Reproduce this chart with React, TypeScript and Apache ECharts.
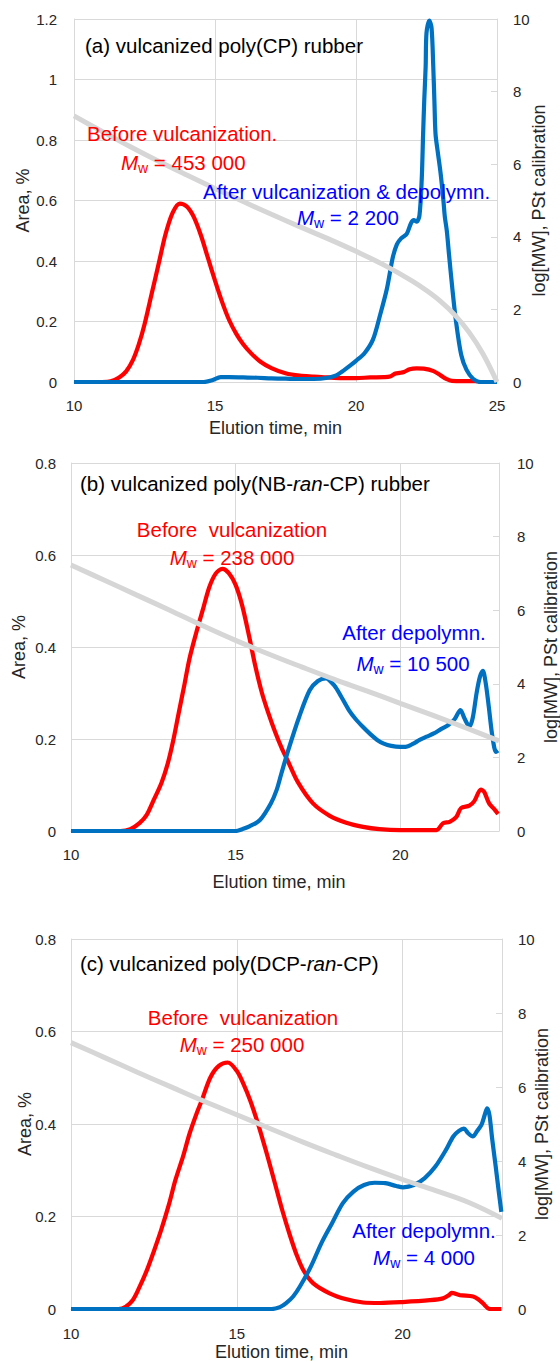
import { useEffect, useRef } from "react";
import * as echarts from "echarts";

const FONT = '"Liberation Sans", Arial, sans-serif';
const GRID_C = "#d9d9d9";
const TXT = "#262626";
const RED = "#ff0000";
const BLUE = "#0070c0";
const GRAY = "#d6d6d6";
const RED_T = "#ff0000";
const BLUE_T = "#0000ff";

// ---------- panel (a) ----------
const beforeA: number[][] = [
  [10, 0], [11, 0], [11.3, 0.002], [11.6, 0.015], [11.85, 0.035], [12.1, 0.075], [12.3, 0.125],
  [12.5, 0.19], [12.75, 0.29], [13.0, 0.39], [13.25, 0.49], [13.5, 0.56], [13.75, 0.59],
  [14.0, 0.58], [14.25, 0.545], [14.5, 0.485], [14.75, 0.41], [15.0, 0.335], [15.25, 0.265],
  [15.5, 0.205], [15.75, 0.16], [16.0, 0.125], [16.3, 0.093], [16.6, 0.068], [17.0, 0.046],
  [17.5, 0.029], [18.0, 0.021], [18.5, 0.018], [19.0, 0.015], [19.5, 0.013], [20.0, 0.013],
  [20.5, 0.015], [21.0, 0.016], [21.2, 0.018], [21.4, 0.028], [21.55, 0.03], [21.7, 0.033],
  [21.9, 0.042], [22.15, 0.045], [22.4, 0.044], [22.75, 0.036], [23.0, 0.022], [23.2, 0.01],
  [23.4, 0.004], [24.3, 0.003],
];
const afterA: number[][] = [
  [10, 0], [14.6, 0], [14.9, 0.006], [15.2, 0.016], [15.5, 0.016], [16, 0.015], [16.5, 0.014],
  [17, 0.012], [17.5, 0.011], [18, 0.01], [18.5, 0.01], [19, 0.014], [19.3, 0.022], [19.5, 0.034],
  [19.8, 0.055], [20.0, 0.07], [20.3, 0.095], [20.6, 0.14], [20.85, 0.22], [21.1, 0.31],
  [21.3, 0.41], [21.45, 0.455], [21.6, 0.475], [21.8, 0.49], [21.95, 0.525], [22.05, 0.535],
  [22.15, 0.53], [22.25, 0.55], [22.33, 0.668], [22.38, 0.82], [22.42, 0.93], [22.47, 1.043],
  [22.5, 1.154], [22.6, 1.195], [22.68, 1.17], [22.74, 1.043], [22.78, 0.93], [22.82, 0.82],
  [22.89, 0.767], [23.0, 0.69], [23.1, 0.6], [23.15, 0.546], [23.22, 0.5], [23.3, 0.42],
  [23.41, 0.315], [23.54, 0.205], [23.73, 0.09], [23.92, 0.04], [24.16, 0.01], [24.4, 0], [25, 0],
];
const calibA: number[][] = [
  [10, 7.33], [11, 6.9], [12, 6.48], [13, 6.08], [14, 5.7], [15, 5.33], [16, 4.97], [17, 4.62],
  [18, 4.28], [19, 3.95], [20, 3.6], [21, 3.22], [22, 2.78], [22.5, 2.52], [23, 2.22], [23.5, 1.85],
  [24, 1.38], [24.5, 0.78], [25, 0],
];

// ---------- panel (b) ----------
const beforeB: number[][] = [
  [10, 0], [11.5, 0], [11.8, 0.004], [12.08, 0.017], [12.3, 0.035], [12.51, 0.067], [12.75, 0.105],
  [12.94, 0.147], [13.1, 0.195], [13.27, 0.256], [13.45, 0.32], [13.6, 0.375], [13.8, 0.43],
  [14.0, 0.48], [14.2, 0.53], [14.4, 0.56], [14.6, 0.57], [14.8, 0.56], [15.0, 0.535], [15.2, 0.49],
  [15.42, 0.42], [15.6, 0.358], [15.8, 0.3], [16.0, 0.255], [16.2, 0.215], [16.4, 0.18],
  [16.6, 0.15], [16.9, 0.105], [17.35, 0.06], [17.86, 0.033], [18.36, 0.018], [18.87, 0.009],
  [19.37, 0.004], [20, 0.002], [21.1, 0.002], [21.3, 0.017], [21.5, 0.02], [21.7, 0.03],
  [21.85, 0.05], [22.1, 0.055], [22.25, 0.065], [22.45, 0.09], [22.55, 0.085], [22.7, 0.06],
  [22.85, 0.048], [22.97, 0.037],
];
const afterB: number[][] = [
  [10, 0], [15.0, 0], [15.2, 0.004], [15.42, 0.01], [15.74, 0.024], [16.07, 0.06], [16.25, 0.09],
  [16.39, 0.125], [16.6, 0.176], [16.93, 0.248], [17.25, 0.306], [17.5, 0.326], [17.74, 0.332],
  [18.0, 0.316], [18.2, 0.293], [18.44, 0.263], [18.65, 0.243], [18.87, 0.226], [19.1, 0.21],
  [19.3, 0.198], [19.5, 0.19], [19.73, 0.185], [20.0, 0.183], [20.16, 0.183], [20.4, 0.19],
  [20.59, 0.198], [20.8, 0.205], [21.02, 0.212], [21.25, 0.222], [21.45, 0.23], [21.65, 0.243],
  [21.83, 0.263], [21.95, 0.245], [22.1, 0.227], [22.2, 0.245], [22.32, 0.3], [22.42, 0.335],
  [22.51, 0.348], [22.6, 0.32], [22.69, 0.27], [22.8, 0.205], [22.91, 0.172], [22.97, 0.175],
];
const calibB: number[][] = [
  [10, 7.23], [11, 6.82], [12, 6.41], [13, 6.0], [14, 5.58], [15, 5.18], [16, 4.81], [17, 4.46],
  [18, 4.12], [19, 3.8], [20, 3.47], [21, 3.14], [22, 2.8], [23, 2.45],
];

// ---------- panel (c) ----------
const beforeC: number[][] = [
  [10, 0], [11.43, 0], [11.65, 0.005], [11.86, 0.019], [12.05, 0.045], [12.29, 0.084], [12.5, 0.125],
  [12.72, 0.171], [12.95, 0.225], [13.15, 0.279], [13.38, 0.33], [13.58, 0.38], [13.8, 0.425],
  [13.95, 0.452], [14.2, 0.5], [14.45, 0.525], [14.73, 0.533], [15.0, 0.515], [15.2, 0.487],
  [15.4, 0.452], [15.62, 0.405], [15.8, 0.362], [15.94, 0.327], [16.15, 0.272], [16.37, 0.214],
  [16.6, 0.16], [16.8, 0.118], [17.0, 0.085], [17.3, 0.056], [17.8, 0.034], [18.31, 0.021],
  [18.81, 0.014], [19.32, 0.013], [20, 0.015], [20.82, 0.019], [21.22, 0.023], [21.4, 0.03],
  [21.48, 0.035], [21.73, 0.03], [22.13, 0.027], [22.3, 0.02], [22.43, 0.012], [22.63, 0],
  [22.98, 0],
];
const afterC: number[][] = [
  [10, 0], [16.05, 0], [16.3, 0.004], [16.48, 0.012], [16.7, 0.027], [16.9, 0.048], [17.23, 0.091],
  [17.55, 0.142], [17.87, 0.185], [18.2, 0.229], [18.52, 0.254], [18.84, 0.268], [19.16, 0.273],
  [19.48, 0.272], [19.81, 0.266], [20.02, 0.263], [20.34, 0.268], [20.67, 0.283], [20.99, 0.308],
  [21.31, 0.344], [21.53, 0.373], [21.7, 0.385], [21.85, 0.39], [21.98, 0.38], [22.12, 0.373],
  [22.25, 0.385], [22.38, 0.398], [22.48, 0.42], [22.55, 0.434], [22.62, 0.42], [22.7, 0.37],
  [22.81, 0.308], [22.9, 0.255], [22.98, 0.21],
];
const calibC: number[][] = [
  [10, 7.2], [11, 6.8], [12, 6.4], [13, 6.01], [14, 5.62], [15, 5.25], [16, 4.88], [17, 4.51],
  [18, 4.16], [19, 3.82], [20, 3.5], [21, 3.2], [22, 2.88], [23, 2.45],
];

// axis ranges
const xMax = [25, 23, 23];
const areaMax = [1.2, 0.8, 0.8];
const mwMax = [10, 10, 10];

const xTitle = "Elution time, min";
const leftTitle = "Area, %";
const rightTitle = "log[MW], PSt calibration";

const panels = [
  { before: beforeA, after: afterA, calib: calibA },
  { before: beforeB, after: afterB, calib: calibB },
  { before: beforeC, after: afterC, calib: calibC },
];

// layout
const grids = [
  { left: 74, top: 19, width: 423, height: 363 },
  { left: 71, top: 463, width: 428, height: 368 },
  { left: 71, top: 939, width: 431, height: 370 },
];
const xLabelMargin = [16, 16, 17];
const xNameGap = [37, 42, 34];
const xNameShift = [20, 12, 10];
const leftLabelMargin = [17, 15, 15];
const leftNameGap = [42, 43, 37];
const rightLabelMargin = [16, 18, 16];
const rightNameGap = [33, 43, 31];

const FS = 20.5;
const TICK_FS = 15;

function plain(text: string, x: number, y: number, fill: string, align = "left") {
  return {
    type: "text",
    x,
    y,
    z: 50,
    style: { text, fill, fontSize: FS, fontFamily: FONT, align, verticalAlign: "middle" },
  };
}

function richText(text: string, x: number, y: number, fill: string, align = "left") {
  const base = { fontSize: FS, fontFamily: FONT, fill, lineHeight: 26 };
  return {
    type: "text",
    x,
    y,
    z: 50,
    style: {
      text,
      fill,
      fontSize: FS,
      fontFamily: FONT,
      align,
      verticalAlign: "middle",
      lineHeight: 26,
      rich: {
        n: base,
        i: { ...base, fontStyle: "italic" },
        s: { fontSize: 14, fontFamily: FONT, fill, verticalAlign: "bottom", lineHeight: 16 },
      },
    },
  };
}

const mw = (v: string) => `{i|M}{s|w}{n| = ${v}}`;

export default function App() {
  const ref = useRef<HTMLDivElement>(null);
  useEffect(() => {
    if (!ref.current) return;
    const chart = echarts.init(ref.current, undefined, { renderer: "svg" });

    const xAxis = grids.map((_, i) => ({
      type: "value",
      gridIndex: i,
      min: 10,
      max: xMax[i],
      interval: 5,
      name: xTitle,
      nameLocation: "middle",
      nameGap: xNameGap[i],
      nameMoveOverlap: false,
      nameTextStyle: { fontSize: 18, fontFamily: FONT, color: TXT, padding: [0, xNameShift[i], 0, 0] },
      axisLine: { show: true, lineStyle: { color: GRID_C, width: 1 } },
      axisTick: { show: false },
      axisLabel: {
        margin: xLabelMargin[i],
        fontSize: TICK_FS,
        fontFamily: FONT,
        color: TXT,
        showMaxLabel: i === 0,
        showMinLabel: true,
      },
      splitLine: { show: true, lineStyle: { color: GRID_C, width: 1 } },
    }));

    const yAxis: any[] = [];
    grids.forEach((_, i) => {
      yAxis.push({
        type: "value",
        gridIndex: i,
        position: "left",
        min: 0,
        max: areaMax[i],
        interval: 0.2,
        name: leftTitle,
        nameLocation: "middle",
        nameGap: leftNameGap[i],
        nameRotate: 90,
        nameMoveOverlap: false,
        nameTextStyle: { fontSize: 18, fontFamily: FONT, color: TXT },
        axisLine: { show: true, lineStyle: { color: GRID_C, width: 1 } },
        axisTick: { show: false },
        axisLabel: { margin: leftLabelMargin[i], fontSize: TICK_FS, fontFamily: FONT, color: TXT },
        splitLine: { show: true, lineStyle: { color: GRID_C, width: 1 } },
      });
      yAxis.push({
        type: "value",
        gridIndex: i,
        position: "right",
        min: 0,
        max: mwMax[i],
        interval: 2,
        name: rightTitle,
        nameLocation: "middle",
        nameGap: rightNameGap[i],
        nameRotate: 90,
        nameMoveOverlap: false,
        nameTextStyle: { fontSize: 18, fontFamily: FONT, color: TXT },
        axisLine: { show: true, lineStyle: { color: GRID_C, width: 1 } },
        axisTick: { show: true, inside: true, length: 6, lineStyle: { color: GRID_C } },
        axisLabel: { margin: rightLabelMargin[i], fontSize: TICK_FS, fontFamily: FONT, color: TXT },
        splitLine: { show: false },
      });
    });

    const series: any[] = [];
    panels.forEach((p, i) => {
      series.push({
        type: "line",
        xAxisIndex: i,
        yAxisIndex: i * 2,
        data: p.before,
        showSymbol: false,
        smooth: 0.3,
        lineStyle: { color: RED, width: 4.2 },
        itemStyle: { color: RED },
        z: 3,
      });
      series.push({
        type: "line",
        xAxisIndex: i,
        yAxisIndex: i * 2,
        data: p.after,
        showSymbol: false,
        smooth: 0.3,
        lineStyle: { color: BLUE, width: 4.2 },
        itemStyle: { color: BLUE },
        z: 4,
      });
      series.push({
        type: "line",
        xAxisIndex: i,
        yAxisIndex: i * 2 + 1,
        data: p.calib,
        showSymbol: false,
        smooth: 0.4,
        lineStyle: { color: GRAY, width: 5 },
        itemStyle: { color: GRAY },
        z: 5,
      });
    });

    const graphic = [
      // (a)
      plain("(a) vulcanized poly(CP) rubber", 85, 45, "#000000"),
      plain("Before vulcanization.", 87, 133, RED_T),
      richText(mw("453 000"), 121, 162, RED_T),
      plain("After vulcanization & depolymn.", 203, 191, BLUE_T),
      richText(mw("2 200"), 297, 217, BLUE_T),
      // (b)
      richText("(b) vulcanized poly(NB-{i|ran}{n|-CP) rubber}", 80, 483, "#000000"),
      plain("Before  vulcanization", 232, 529, RED_T, "center"),
      richText(mw("238 000"), 232, 557, RED_T, "center"),
      plain("After depolymn.", 414, 632, BLUE_T, "center"),
      richText(mw("10 500"), 413, 663, BLUE_T, "center"),
      // (c)
      richText("(c) vulcanized poly(DCP-{i|ran}{n|-CP)}", 80, 963, "#000000"),
      plain("Before  vulcanization", 243, 1017, RED_T, "center"),
      richText(mw("250 000"), 242, 1044, RED_T, "center"),
      plain("After depolymn.", 424, 1230, BLUE_T, "center"),
      richText(mw("4 000"), 424, 1257, BLUE_T, "center"),
    ];

    chart.setOption({
      animation: false,
      backgroundColor: "#ffffff",
      grid: grids.map((g) => ({ ...g, containLabel: false, outerBoundsMode: "none" })),
      xAxis,
      yAxis,
      series,
      graphic,
    });
    return () => chart.dispose();
  }, []);

  return (
    <div
      ref={ref}
      style={{ position: "absolute", left: 0, top: 0, width: 560, height: 1362, background: "#fff" }}
    />
  );
}
